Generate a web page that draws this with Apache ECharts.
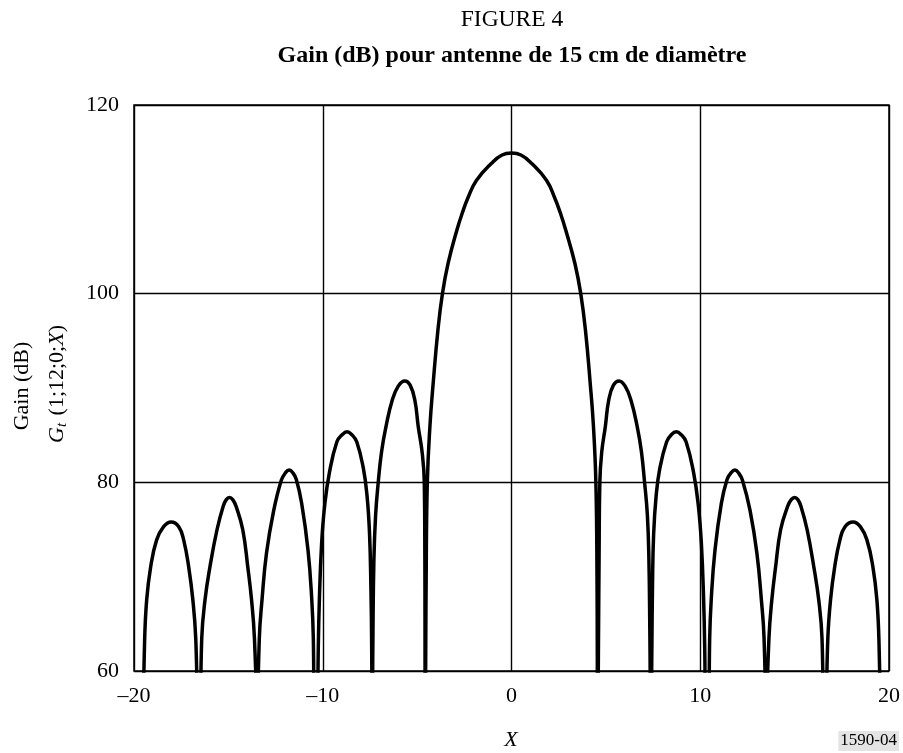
<!DOCTYPE html>
<html>
<head>
<meta charset="utf-8">
<script src="https://cdn.jsdelivr.net/npm/echarts@6/dist/echarts.min.js"></script>
<style>
  html, body { margin: 0; padding: 0; background: #fff; }
  #chart { width: 903px; height: 753px; }
</style>
</head>
<body>
<div id="chart"></div>
<script>
// X values, lobe by lobe (left to right); nulls dip below the 60 dB floor
const xValues = [
  -19.53, -19.44, -19.33, -19.12, -18.8, -18.43, -18.03, -17.63, -17.37, -17.1, -16.88, -16.73, -16.56,
  -16.52, -16.41, -16.24, -15.98, -15.6, -15.27, -15.11, -14.94, -14.77, -14.6, -14.24, -13.97, -13.77, -13.62, -13.44,
  -13.48, -13.36, -13.22, -12.98, -12.6, -12.2, -11.98, -11.78, -11.58, -11.4, -11.12, -10.78, -10.58, -10.5, -10.42,
  -10.3, -10.24, -10.18, -10.06, -9.9, -9.65, -9.25, -8.97, -8.72, -8.46, -8.2, -7.85, -7.65, -7.52, -7.45, -7.41, -7.38,
  -7.4, -7.34, -7.29, -7.2, -7.06, -6.88, -6.65, -6.32, -6.0, -5.65, -5.37, -5.12, -4.94, -4.73, -4.62, -4.59, -4.57,
  -4.56, -4.52, -4.46, -4.32, -4.15, -3.9, -3.66, -3.36, -2.9, -2.6, -2.3, -1.86, -1.07, -0.5, 0,
  0.5, 1.07, 1.86, 2.28, 2.58, 2.88, 3.36, 3.67, 3.92, 4.17, 4.34, 4.47, 4.53, 4.57,
  4.6, 4.64, 4.68, 4.78, 4.97, 5.15, 5.4, 5.7, 6.02, 6.33, 6.66, 6.88, 7.05, 7.2, 7.28, 7.33, 7.39,
  7.42, 7.44, 7.47, 7.53, 7.66, 7.86, 8.22, 8.47, 8.73, 8.99, 9.25, 9.65, 9.9, 10.06, 10.18, 10.24, 10.3,
  10.42, 10.5, 10.58, 10.78, 11.12, 11.42, 11.63, 11.83, 12.03, 12.24, 12.64, 13.0, 13.24, 13.38, 13.5,
  13.46, 13.64, 13.79, 13.99, 14.26, 14.64, 14.82, 15.0, 15.17, 15.33, 15.66, 16.02, 16.28, 16.45, 16.56,
  16.6, 16.76, 16.9, 17.12, 17.4, 17.67, 18.1, 18.48, 18.83, 19.15, 19.36, 19.47, 19.56
];
// Gain (dB) at each X
const gainValues = [
  52, 63, 67.5, 71.0, 73.9, 75.3, 75.8, 75.3, 73.9, 71.0, 67.5, 63.5, 52,
  52, 63.5, 67.5, 71.0, 75.0, 77.5, 78.17, 78.4, 78.17, 77.5, 75.0, 71.0, 67.5, 63.5, 52,
  52, 63.5, 67.5, 72.5, 77.0, 80.2, 81.0, 81.3, 81.0, 80.3, 77.8, 72.8, 67.5, 63.5, 52,
  52, 62, 67.5, 73.5, 77.5, 81.0, 84.3, 85.05, 85.35, 85.05, 84.3, 81.5, 78.5, 74.5, 69, 63, 52,
  52, 64, 71.8, 76.5, 80.0, 83.3, 85.9, 88.7, 90.2, 90.75, 90.3, 88.7, 85.9, 83.1, 80.0, 72, 52,
  52, 70, 80.0, 86.0, 90.5, 96.1, 100.0, 103.2, 106.7, 108.6, 110.2, 112.0, 113.8, 114.7, 114.9,
  114.7, 113.8, 112.0, 110.2, 108.6, 106.7, 103.2, 100.0, 96.1, 90.5, 86.0, 80.0, 70, 52,
  52, 72, 80.0, 83.2, 85.9, 88.7, 90.3, 90.75, 90.2, 88.7, 85.9, 83.3, 80.0, 76.5, 71.8, 64, 52,
  52, 63, 69, 74.5, 78.5, 81.5, 84.3, 85.05, 85.35, 85.05, 84.3, 81.0, 77.5, 73.5, 67.5, 62, 52,
  52, 63.5, 67.5, 72.8, 77.8, 80.3, 81.0, 81.3, 81.0, 80.2, 77.0, 72.5, 67.5, 63.5, 52,
  52, 63.5, 67.5, 71.0, 75.0, 77.5, 78.17, 78.4, 78.17, 77.5, 75.0, 71.0, 67.5, 63.5, 52,
  52, 63.5, 67.5, 71.0, 73.9, 75.3, 75.8, 75.3, 73.9, 71.0, 67.5, 63, 52
];
const xTicks = [-20, -10, 0, 10, 20];
const yTicks = [60, 80, 100, 120];

const serif = '"Liberation Serif", "Times New Roman", serif';
const chart = echarts.init(document.getElementById('chart'), null, { renderer: 'canvas' });

const option = {
  backgroundColor: '#fff',
  animation: false,
  grid: {
    left: 134, right: 14, top: 105, height: 566,
    show: true, borderColor: '#000', borderWidth: 1.5
  },
  xAxis: {
    type: 'value',
    min: xTicks[0], max: xTicks[xTicks.length - 1], interval: 10,
    axisLine: { show: false },
    axisTick: { show: false },
    axisLabel: {
      color: '#000', fontFamily: serif, fontSize: 22, margin: 14,
      formatter: v => String(v).replace('-', '\u2013')
    },
    splitLine: { lineStyle: { color: '#000', width: 1.4 } }
  },
  yAxis: {
    type: 'value',
    min: yTicks[0], max: yTicks[yTicks.length - 1], interval: 20,
    axisLine: { show: false },
    axisTick: { show: false },
    axisLabel: { color: '#000', fontFamily: serif, fontSize: 22, margin: 15 },
    splitLine: { lineStyle: { color: '#000', width: 1.4 } }
  },
  series: [{
    type: 'line',
    data: xValues.map((x, i) => [x, gainValues[i]]),
    showSymbol: false,
    smooth: 0.45,
    clip: true,
    lineStyle: { color: '#000', width: 3.5 }
  }],
  graphic: [
    { type: 'text', x: 512, y: 20,
      style: { text: 'FIGURE 4', font: '23.5px ' + serif, fill: '#000', align: 'center', verticalAlign: 'middle' } },
    { type: 'text', x: 512, y: 56,
      style: { text: 'Gain (dB) pour antenne de 15 cm de diamètre', font: 'bold 24px ' + serif, fill: '#000', align: 'center', verticalAlign: 'middle' } },
    { type: 'text', x: 22, y: 386, rotation: Math.PI / 2,
      style: { text: 'Gain (dB)', font: '22px ' + serif, fill: '#000', align: 'center', verticalAlign: 'middle' } },
    { type: 'text', x: 57, y: 384, rotation: Math.PI / 2,
      style: {
        text: '{i|G}{s|t} (1;12;0;{i|X})',
        font: '22px ' + serif, fill: '#000', align: 'center', verticalAlign: 'middle',
        rich: {
          i: { fontFamily: serif, fontSize: 22, fontStyle: 'italic', fill: '#000' },
          s: { fontFamily: serif, fontSize: 15, fontStyle: 'italic', fill: '#000', padding: [10, 2, 0, 0] }
        }
      } },
    { type: 'text', x: 511, y: 740,
      style: { text: 'X', font: 'italic 22px ' + serif, fill: '#000', align: 'center', verticalAlign: 'middle' } },
    { type: 'text', x: 899, y: 741,
      style: {
        text: '1590-04', font: '17px ' + serif, fill: '#000', align: 'right', verticalAlign: 'middle',
        backgroundColor: '#e4e4e4', padding: [2, 2, 1, 2]
      } }
  ]
};
chart.setOption(option);
</script>
</body>
</html>
